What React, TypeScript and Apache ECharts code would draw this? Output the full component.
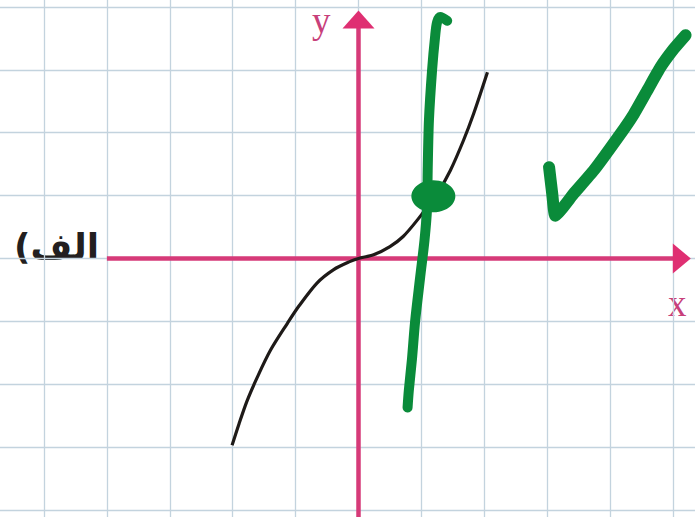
import React, { useEffect, useRef } from "react";
import * as echarts from "echarts";

// Grid extents (units)
const xRange = [-6, 6];
const yRange = [-5, 5];

// Pink coordinate axes
const xAxisLine = [[-4, 0], [5.1, 0]];
const yAxisLine = [[0, -5], [0, 3.7]];
const xArrow = [5.14, 0];
const yArrow = [0, 3.8];

// Black curve
const curveX = [-2.01, -1.9, -1.77, -1.61, -1.4, -1.13, -0.95, -0.66, -0.4, -0.14, 0, 0.24, 0.5, 0.71, 0.95, 1.25, 1.46, 1.67, 1.83, 2.05];
const curveY = [-2.97, -2.63, -2.26, -1.89, -1.46, -1.03, -0.76, -0.39, -0.18, -0.05, 0, 0.06, 0.19, 0.35, 0.63, 1.03, 1.4, 1.88, 2.3, 2.96];

// Green hand-drawn vertical stroke
const strokeX = [1.41, 1.3, 1.25, 1.22, 1.17, 1.12, 1.1, 1.09, 1.05, 0.98, 0.9, 0.85, 0.8, 0.78];
const strokeY = [3.78, 3.84, 3.76, 3.55, 3.0, 2.2, 1.4, 0.8, 0.3, -0.3, -1.0, -1.6, -2.1, -2.37];

// Green dot
const dot = [1.19, 0.99];

// Green check mark
const checkX = [3.03, 3.08, 3.13, 3.42, 3.74, 4.22, 4.38, 4.59, 4.8, 5.01, 5.2];
const checkY = [1.45, 1.03, 0.68, 1.03, 1.4, 2.06, 2.3, 2.67, 3.04, 3.33, 3.55];

const labelY = "y";
const labelX = "x";
const partLabel = "(الف";

const PINK = "#d63a78";
const GREEN = "#0a8b3a";

const zip = (xs: number[], ys: number[]) => xs.map((x, i) => [x, ys[i]]);

export default function App() {
  const ref = useRef<HTMLDivElement>(null);
  useEffect(() => {
    if (!ref.current) return;
    const chart = echarts.init(ref.current, undefined, { renderer: "svg" });
    const u = 62.9;
    const ox = 358.5;
    const oy = 258.5;
    chart.setOption({
      animation: false,
      backgroundColor: "#ffffff",
      grid: {
        outerBoundsMode: "none",
        containLabel: false,
        left: ox + xRange[0] * u,
        top: oy - yRange[1] * u,
        width: (xRange[1] - xRange[0]) * u,
        height: (yRange[1] - yRange[0]) * u,
      },
      xAxis: {
        type: "value",
        min: xRange[0],
        max: xRange[1],
        interval: 1,
        axisLine: { show: false },
        axisTick: { show: false },
        axisLabel: { show: false },
        splitLine: { show: true, lineStyle: { color: "#c3d3de", width: 1.3 } },
      },
      yAxis: {
        type: "value",
        min: yRange[0],
        max: yRange[1],
        interval: 1,
        axisLine: { show: false },
        axisTick: { show: false },
        axisLabel: { show: false },
        splitLine: { show: true, lineStyle: { color: "#c3d3de", width: 1.3 } },
      },
      series: [
        {
          type: "line",
          data: xAxisLine,
          showSymbol: false,
          lineStyle: { color: PINK, width: 4.5 },
          z: 2,
        },
        {
          type: "line",
          data: yAxisLine,
          showSymbol: false,
          lineStyle: { color: PINK, width: 4.5 },
          z: 2,
        },
        {
          type: "scatter",
          data: [
            { value: xArrow, symbolRotate: -90, symbolSize: [30, 18] },
            { value: yArrow, symbolRotate: 0, symbolSize: [32, 18] },
          ],
          symbol: "triangle",
          itemStyle: { color: "#df2f72", opacity: 1 },
          z: 3,
        },
        {
          type: "line",
          data: zip(curveX, curveY),
          smooth: 0.3,
          showSymbol: false,
          lineStyle: { color: "#1e1a18", width: 3.2 },
          z: 4,
        },
        {
          type: "line",
          data: zip(strokeX, strokeY),
          smooth: 0.3,
          showSymbol: false,
          lineStyle: { color: GREEN, width: 10, cap: "round", join: "round" },
          z: 5,
        },
        {
          type: "line",
          data: zip(checkX, checkY),
          smooth: 0.15,
          showSymbol: false,
          lineStyle: { color: GREEN, width: 12, cap: "round", join: "round" },
          z: 5,
        },
        {
          type: "scatter",
          data: [dot],
          symbol: "circle",
          symbolSize: [44, 32],
          itemStyle: { color: GREEN, opacity: 1 },
          z: 6,
        },
      ],
      graphic: [
        {
          type: "text",
          left: 312,
          top: 2,
          style: {
            text: labelY,
            fontFamily: "Liberation Serif, serif",
            fontSize: 37,
            fill: "#c8407a",
          },
        },
        {
          type: "text",
          left: 668,
          top: 285,
          style: {
            text: labelX,
            fontFamily: "Liberation Serif, serif",
            fontSize: 37,
            fill: "#c8407a",
          },
        },
        {
          type: "text",
          left: 14,
          top: 228,
          style: {
            text: partLabel,
            fontFamily: "DejaVu Sans, sans-serif",
            fontWeight: "bold",
            fontSize: 36,
            fill: "#231f20",
          },
        },
      ],
    });
    return () => chart.dispose();
  }, []);
  return (
    <div
      ref={ref}
      style={{ position: "fixed", left: 0, top: 0, width: 695, height: 517 }}
    />
  );
}
